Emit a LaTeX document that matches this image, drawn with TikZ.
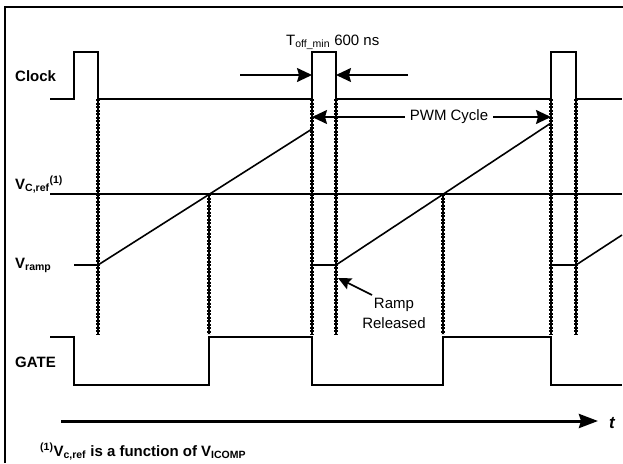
\documentclass[tikz,border=0pt]{standalone}
\usepackage{fontspec}
\setmainfont{Liberation Sans}
\usetikzlibrary{arrows.meta}

\tikzset{
  sig/.style   ={line width=1.6pt},
  guide/.style ={preaction={draw, line width=1.4pt}, line width=3.2pt,
                 dash pattern=on 2.2pt off 1.3pt},
  dimarrow/.style={line width=1.6pt, -{Stealth[length=15pt,width=14pt,inset=2pt]}},
  axisarrow/.style={line width=3pt, -{Stealth[length=19pt,width=14pt,inset=2pt]}},
  lbl/.style   ={font=\fontsize{15}{18}\selectfont\bfseries, anchor=base west, inner sep=0pt},
  txt/.style   ={font=\fontsize{15}{20}\selectfont, inner sep=0pt},
}

\begin{document}
\begin{tikzpicture}[x=1pt, y=-1pt]
  \useasboundingbox (0,0) rectangle (623,463);
  % frame
  \draw[line width=1.5pt] (5,463) -- (5,7) -- (623,7);

  % signal names
  \node[lbl] (clk) at (15,81) {Clock};
  \node[lbl] (vref) at (15,189) {V\textsubscript{C,ref}\textsuperscript{(1)}};
  \node[lbl] (vramp) at (15,268) {V\textsubscript{ramp}};
  \node[lbl] (gate) at (15,367) {GATE};

  % clock
  \draw[sig] (50,99) -- (74,99) -- (74,52) -- (98,52) -- (98,99) -- (312,99)
    -- (312,52) -- (336,52) -- (336,99) -- (551,99) -- (551,52) -- (576,52)
    -- (576,99) -- (622,99);
  % reference level
  \draw[sig] (50,194) -- (622,194);
  % ramp
  \draw[sig] (74,265) -- (98,265) -- (312,129);
  \draw[sig] (312,265) -- (336,265) -- (551,123);
  \draw[sig] (551,265) -- (576,265) -- (622,235);
  % gate
  \draw[sig] (50,337) -- (74,337) -- (74,385) -- (209,385) -- (209,337) -- (312,337)
    -- (312,385) -- (443,385) -- (443,337) -- (551,337) -- (551,385) -- (622,385);

  % guide lines
  \foreach \x in {98, 312, 336, 551, 576}
    \draw[guide] (\x,99) -- (\x,334);
  \foreach \x in {209, 443}
    \draw[guide] (\x,194) -- (\x,334);

  % minimum off time
  \node[txt, anchor=base west] (toff) at (286,45) {T\textsubscript{off\_min} 600 ns};
  \coordinate (toffl) at (240,75);
  \coordinate (toffr) at (408,75);
  \draw[dimarrow] (toffl) -- (312,75);
  \draw[dimarrow] (toffr) -- (336,75);

  % PWM cycle
  \node[txt, inner xsep=5pt] (pwm) at (449,117) {PWM Cycle};
  \draw[dimarrow] (pwm.west) -- (312,117);
  \draw[dimarrow] (pwm.east) -- (551,117);

  % ramp released
  \node[txt, align=center] (rel) at (394,313) {Ramp\\Released};
  \coordinate (relstart) at (372,295);
  \draw[line width=1.6pt, -{Stealth[length=13pt,width=12pt,inset=2pt]}] (relstart) -- (338,278);

  % time axis
  \coordinate (axl) at (61,421);
  \coordinate (axr) at (598,421);
  \draw[axisarrow] (axl) -- (axr);
  \node[lbl, font=\fontsize{17}{20}\selectfont\bfseries\itshape] (t) at (609,428) {t};

  % footnote
  \node[lbl] (note) at (40,456) {\textsuperscript{(1)}V\textsubscript{c,ref} is a function of V\textsubscript{ICOMP}};
\end{tikzpicture}
\end{document}
